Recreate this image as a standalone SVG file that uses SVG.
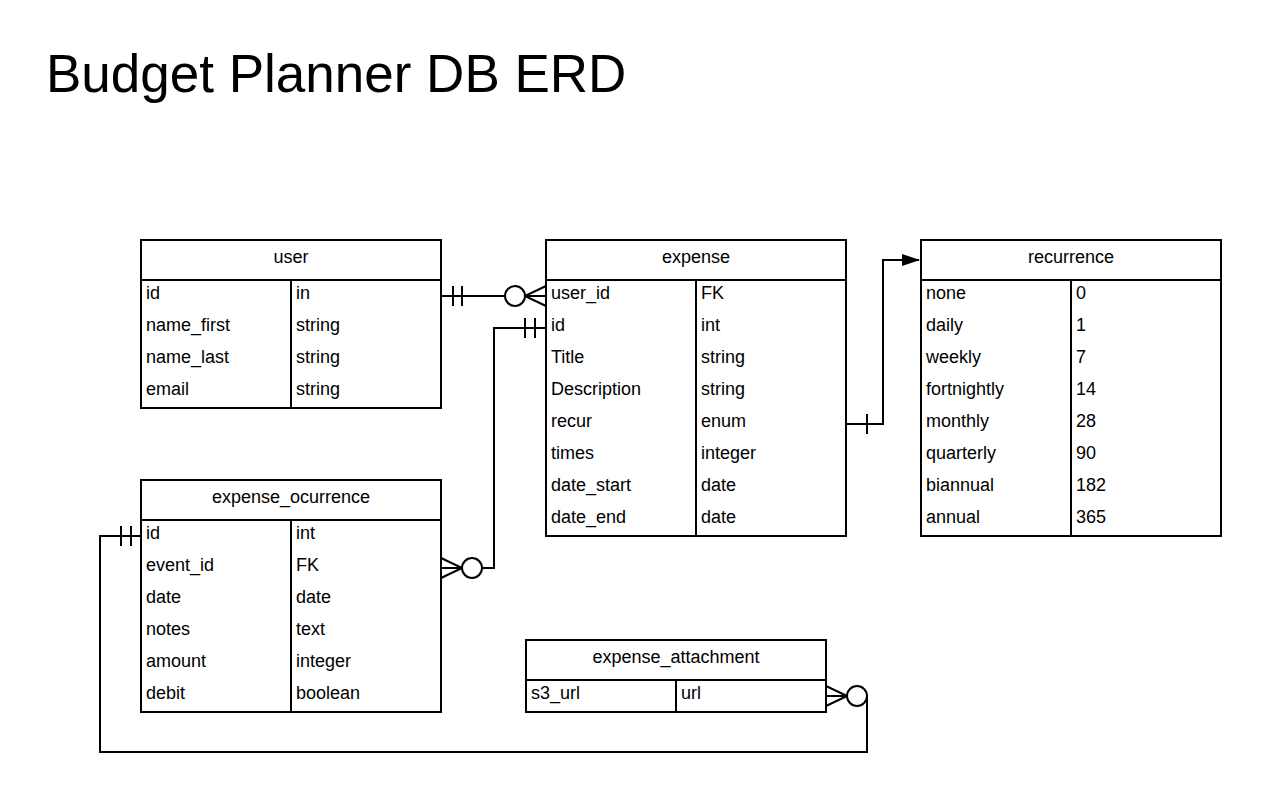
<svg xmlns="http://www.w3.org/2000/svg" width="1261" height="792" viewBox="0 0 1261 792">
<style>
text{font-family:"Liberation Sans",Arial,sans-serif;fill:#000}
.t{font-size:53px}
.h{font-size:18px;text-anchor:middle}
.r{font-size:18px}
.box{fill:#fff;stroke:#000;stroke-width:2}
.ln{fill:none;stroke:#000;stroke-width:2}
</style>
<defs>
<marker id="arr" markerWidth="18" markerHeight="12" refX="17" refY="6" orient="auto" markerUnits="userSpaceOnUse">
<path d="M0,0 L18,6 L0,12 Z" fill="#000"/>
</marker>
</defs>
<rect width="1261" height="792" fill="#fff"/>
<text class="t" x="46" y="92">Budget Planner DB ERD</text>

<g id="connectors">
<path class="ln" d="M441,296 H504"/>
<path class="ln" d="M453,286 V306 M462,286 V306"/>
<circle class="ln" cx="515" cy="296" r="10"/>
<path class="ln" d="M525,296 H546 M525,296 L546,286 M525,296 L546,306"/>

<path class="ln" d="M546,328 H494 V568 H482"/>
<path class="ln" d="M525,318 V338 M535,318 V338"/>
<circle class="ln" cx="472" cy="568" r="10"/>
<path class="ln" d="M462,568 H441 M462,568 L441,558 M462,568 L441,578"/>

<path class="ln" d="M846,424 H883 V260 H919" marker-end="url(#arr)"/>
<path class="ln" d="M867,414 V434"/>

<path class="ln" d="M141,536 H100 V752 H867 V696"/>
<path class="ln" d="M121,526 V546 M131,526 V546"/>
<circle class="ln" cx="857" cy="696" r="10"/>
<path class="ln" d="M847,696 H826 M847,696 L826,686 M847,696 L826,706"/>
</g>

<g id="user">
<rect class="box" x="141" y="240" width="300" height="168"/>
<path class="ln" d="M141,280 H441 M291,280 V408"/>
<text class="h" x="291" y="263">user</text>
<text class="r" x="146" y="299">id</text><text class="r" x="296" y="299">in</text>
<text class="r" x="146" y="331">name_first</text><text class="r" x="296" y="331">string</text>
<text class="r" x="146" y="363">name_last</text><text class="r" x="296" y="363">string</text>
<text class="r" x="146" y="395">email</text><text class="r" x="296" y="395">string</text>
</g>

<g id="expense">
<rect class="box" x="546" y="240" width="300" height="296"/>
<path class="ln" d="M546,280 H846 M696,280 V536"/>
<text class="h" x="696" y="263">expense</text>
<text class="r" x="551" y="299">user_id</text><text class="r" x="701" y="299">FK</text>
<text class="r" x="551" y="331">id</text><text class="r" x="701" y="331">int</text>
<text class="r" x="551" y="363">Title</text><text class="r" x="701" y="363">string</text>
<text class="r" x="551" y="395">Description</text><text class="r" x="701" y="395">string</text>
<text class="r" x="551" y="427">recur</text><text class="r" x="701" y="427">enum</text>
<text class="r" x="551" y="459">times</text><text class="r" x="701" y="459">integer</text>
<text class="r" x="551" y="491">date_start</text><text class="r" x="701" y="491">date</text>
<text class="r" x="551" y="523">date_end</text><text class="r" x="701" y="523">date</text>
</g>

<g id="recurrence">
<rect class="box" x="921" y="240" width="300" height="296"/>
<path class="ln" d="M921,280 H1221 M1071,280 V536"/>
<text class="h" x="1071" y="263">recurrence</text>
<text class="r" x="926" y="299">none</text><text class="r" x="1076" y="299">0</text>
<text class="r" x="926" y="331">daily</text><text class="r" x="1076" y="331">1</text>
<text class="r" x="926" y="363">weekly</text><text class="r" x="1076" y="363">7</text>
<text class="r" x="926" y="395">fortnightly</text><text class="r" x="1076" y="395">14</text>
<text class="r" x="926" y="427">monthly</text><text class="r" x="1076" y="427">28</text>
<text class="r" x="926" y="459">quarterly</text><text class="r" x="1076" y="459">90</text>
<text class="r" x="926" y="491">biannual</text><text class="r" x="1076" y="491">182</text>
<text class="r" x="926" y="523">annual</text><text class="r" x="1076" y="523">365</text>
</g>

<g id="expense_ocurrence">
<rect class="box" x="141" y="480" width="300" height="232"/>
<path class="ln" d="M141,520 H441 M291,520 V712"/>
<text class="h" x="291" y="503">expense_ocurrence</text>
<text class="r" x="146" y="539">id</text><text class="r" x="296" y="539">int</text>
<text class="r" x="146" y="571">event_id</text><text class="r" x="296" y="571">FK</text>
<text class="r" x="146" y="603">date</text><text class="r" x="296" y="603">date</text>
<text class="r" x="146" y="635">notes</text><text class="r" x="296" y="635">text</text>
<text class="r" x="146" y="667">amount</text><text class="r" x="296" y="667">integer</text>
<text class="r" x="146" y="699">debit</text><text class="r" x="296" y="699">boolean</text>
</g>

<g id="expense_attachment">
<rect class="box" x="526" y="640" width="300" height="72"/>
<path class="ln" d="M526,680 H826 M676,680 V712"/>
<text class="h" x="676" y="663">expense_attachment</text>
<text class="r" x="531" y="699">s3_url</text><text class="r" x="681" y="699">url</text>
</g>
</svg>
